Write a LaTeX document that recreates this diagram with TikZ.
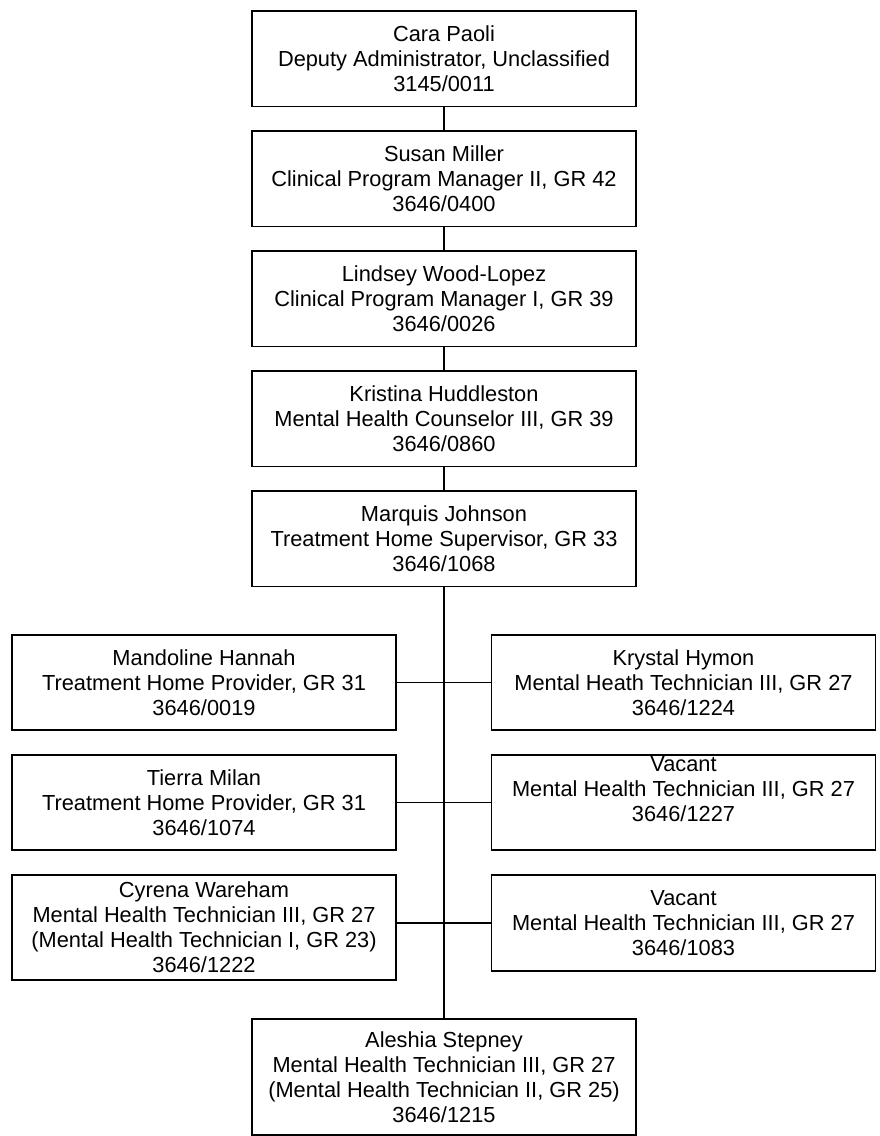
\documentclass[tikz,border=0pt]{standalone}
\usepackage{fontspec}
\setmainfont{Liberation Sans}
\newcommand{\drawthick}{\draw[line width=1.6pt]}
\tikzset{
  staff/.style={draw, line width=1.6pt, minimum width=384pt, minimum height=95.5pt,
    inner sep=0pt, align=center, font=\fontsize{21.8}{25}\selectfont},
  stafftext/.style={inner sep=0pt, align=center, font=\fontsize{21.8}{25}\selectfont},
}
\begin{document}
\begin{tikzpicture}[x=1pt,y=1pt]
\useasboundingbox (0,0) rectangle (879,-1136);
% chain of command
\node[staff] (paoli) at (444,-58.75) {Cara Paoli\\Deputy Administrator, Unclassified\\3145/0011};
\node[staff] (miller) at (444,-178.75) {Susan Miller\\Clinical Program Manager II, GR 42\\3646/0400};
\node[staff] (woodlopez) at (444,-298.75) {Lindsey Wood-Lopez\\Clinical Program Manager I, GR 39\\3646/0026};
\node[staff] (huddleston) at (444,-418.75) {Kristina Huddleston\\Mental Health Counselor III, GR 39\\3646/0860};
\node[staff] (johnson) at (444,-538.75) {Marquis Johnson\\Treatment Home Supervisor, GR 33\\3646/1068};
% left column
\node[staff] (hannah) at (204,-682.5) {Mandoline Hannah\\Treatment Home Provider, GR 31\\3646/0019};
\node[staff] (milan) at (204,-802.5) {Tierra Milan\\Treatment Home Provider, GR 31\\3646/1074};
\node[staff, minimum height=105pt] (wareham) at (204,-927.5) {Cyrena Wareham\\Mental Health Technician III, GR 27\\(Mental Health Technician I, GR 23)\\3646/1222};
% right column
\node[staff] (hymon) at (683.5,-682.5) {Krystal Hymon\\Mental Heath Technician III, GR 27\\3646/1224};
\node[staff] (vacantA) at (683.5,-802.5) {};
\node[stafftext] (vacantAtext) at ([yshift=13.5pt]vacantA.center) {Vacant\\Mental Health Technician III, GR 27\\3646/1227};
\node[staff] (vacantB) at (683.5,-923) {Vacant\\Mental Health Technician III, GR 27\\3646/1083};
% bottom
\node[staff, minimum height=116pt] (stepney) at (444,-1077) {Aleshia Stepney\\Mental Health Technician III, GR 27\\(Mental Health Technician II, GR 25)\\3646/1215};
% connectors
\drawthick (paoli) -- (miller);
\drawthick (miller) -- (woodlopez);
\drawthick (woodlopez) -- (huddleston);
\drawthick (huddleston) -- (johnson);
\drawthick (johnson) -- (stepney);
\drawthick (hannah.east) -- (hymon.west);
\drawthick (milan.east) -- (vacantA.west);
\drawthick (wareham.east |- vacantB.west) -- (vacantB.west);
\end{tikzpicture}
\end{document}
